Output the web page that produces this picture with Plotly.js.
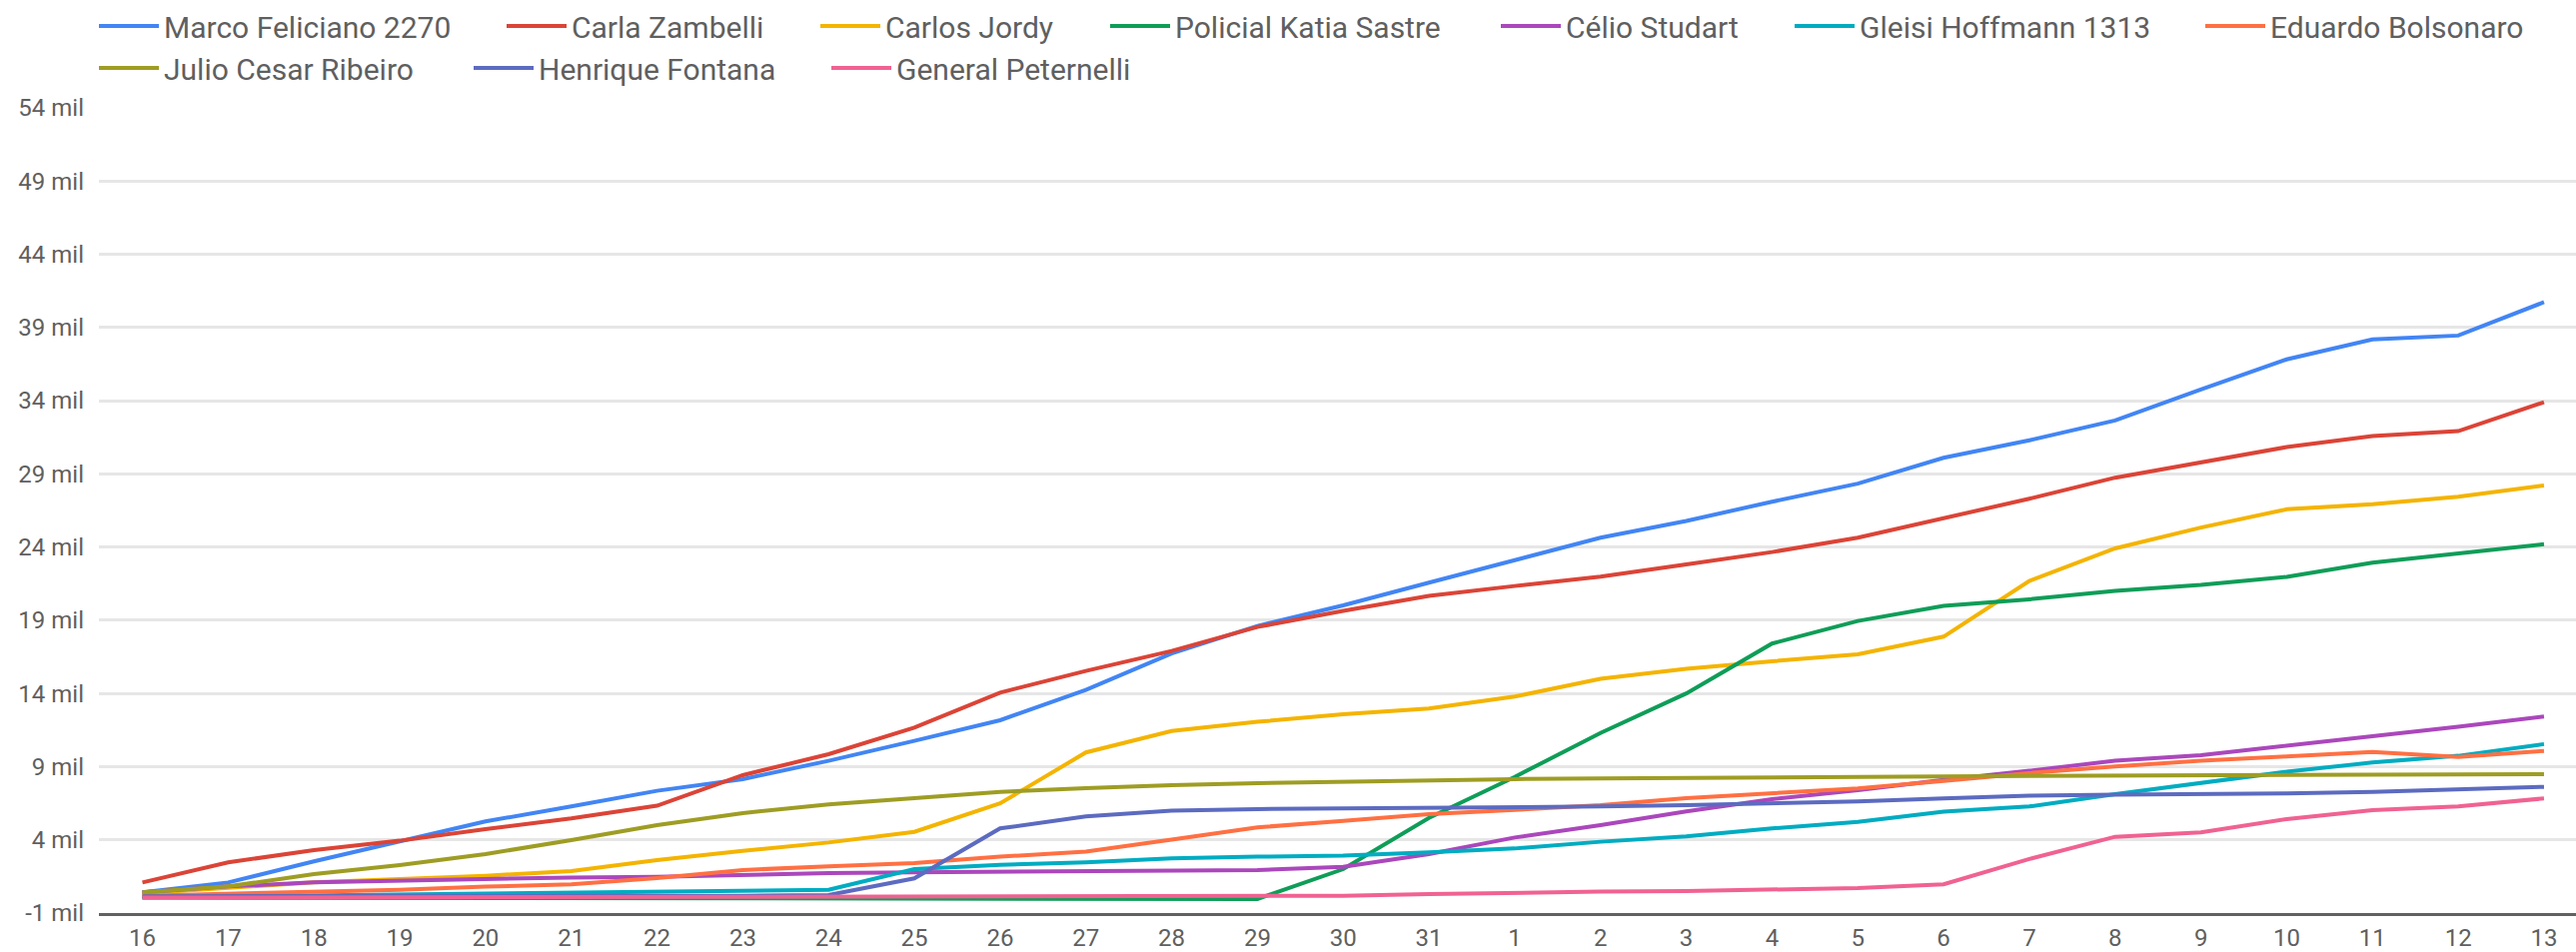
<!DOCTYPE html>
<html>
<head>
<meta charset="utf-8">
<script src="https://cdn.plot.ly/plotly-3.0.1.min.js"></script>
<style>
  html, body { margin: 0; padding: 0; background: #ffffff; }
  #chart { width: 2578px; height: 953px; }
</style>
</head>
<body>
<div id="chart"></div>
<script>
// Day labels (x axis)
const days = ["16","17","18","19","20","21","22","23","24","25","26","27","28","29","30","31",
              "1","2","3","4","5","6","7","8","9","10","11","12","13"];

// Values in thousands ("mil")
const marcoFeliciano = [0.41,1.09,2.53,3.87,5.26,6.28,7.35,8.15,9.40,10.76,12.17,14.24,16.73,18.61,20.02,21.57,
                        23.12,24.64,25.78,27.10,28.33,30.10,31.29,32.65,34.77,36.82,38.18,38.45,40.73];
const carlaZambelli = [1.09,2.46,3.30,3.94,4.73,5.46,6.33,8.42,9.85,11.67,14.06,15.54,16.90,18.54,19.64,20.66,
                       21.34,21.98,22.82,23.66,24.64,25.94,27.30,28.74,29.76,30.83,31.58,31.92,33.90];
const carlosJordy = [0.35,0.75,1.09,1.32,1.55,1.87,2.62,3.25,3.82,4.55,6.49,9.97,11.44,12.06,12.58,12.97,
                     13.79,15.00,15.68,16.20,16.68,17.88,21.68,23.91,25.33,26.58,26.92,27.44,28.21];
const katiaSastre = [0.05,0.04,0.03,0.02,0.01,0.00,-0.02,-0.03,-0.05,-0.06,-0.06,-0.05,-0.05,-0.04,2.00,5.50,
                     8.30,11.30,14.00,17.41,18.95,19.98,20.43,21.00,21.41,21.96,22.94,23.55,24.19];
const celioStudart = [0.41,0.82,1.09,1.20,1.37,1.43,1.48,1.62,1.73,1.78,1.82,1.84,1.89,1.94,2.15,3.03,
                      4.16,5.01,5.94,6.78,7.40,8.10,8.72,9.40,9.78,10.42,11.10,11.72,12.42];
const gleisiHoffmann = [0.07,0.14,0.23,0.30,0.37,0.41,0.46,0.52,0.59,2.00,2.30,2.46,2.73,2.85,2.93,3.14,
                        3.41,3.87,4.23,4.78,5.23,5.92,6.28,7.12,7.87,8.65,9.28,9.74,10.54];
const eduardoBolsonaro = [0.18,0.30,0.48,0.59,0.80,0.96,1.39,1.94,2.19,2.41,2.85,3.19,4.01,4.85,5.30,5.76,
                          6.05,6.37,6.85,7.19,7.51,8.03,8.56,9.01,9.40,9.69,10.01,9.67,10.08];
const julioCesarRibeiro = [0.41,0.82,1.66,2.28,3.03,3.98,5.01,5.83,6.42,6.87,7.28,7.53,7.74,7.87,7.98,8.10,
                           8.15,8.19,8.24,8.26,8.31,8.33,8.37,8.40,8.42,8.44,8.47,8.49,8.49];
const henriqueFontana = [0.15,0.15,0.16,0.16,0.17,0.17,0.18,0.18,0.23,1.37,4.78,5.60,5.99,6.10,6.14,6.17,
                         6.21,6.28,6.37,6.51,6.62,6.83,7.01,7.08,7.12,7.17,7.28,7.42,7.62];
const generalPeternelli = [0.05,0.06,0.06,0.07,0.07,0.08,0.09,0.10,0.10,0.11,0.12,0.13,0.14,0.15,0.18,0.30,
                           0.41,0.46,0.50,0.59,0.71,0.96,2.69,4.21,4.51,5.42,6.03,6.28,6.83];

// Y axis ticks
const yTickVals = [-1,4,9,14,19,24,29,34,39,44,49,54];
const yTickText = yTickVals.map(v => v + " mil");

const seriesNames = ["Marco Feliciano 2270","Carla Zambelli","Carlos Jordy","Policial Katia Sastre",
                     "Célio Studart","Gleisi Hoffmann 1313","Eduardo Bolsonaro","Julio Cesar Ribeiro",
                     "Henrique Fontana","General Peternelli"];
const seriesValues = [marcoFeliciano, carlaZambelli, carlosJordy, katiaSastre, celioStudart,
                      gleisiHoffmann, eduardoBolsonaro, julioCesarRibeiro, henriqueFontana, generalPeternelli];
const colors = ["#4285F4","#DB4437","#F4B400","#0F9D58","#AB47BC","#00ACC1","#FF7043","#9E9D24","#5C6BC0","#F06292"];

// legend placement (pixels in the 2578x953 page): [left of line, row centre]
const legendPos = [[99,26],[507,26],[821,26],[1111,26],[1502,26],[1796,26],[2207,26],
                   [99,68],[474,68],[832,68]];

const W = 2578, H = 953;
const textColor = "#5f5f5f";
const fontFamily = "Roboto, 'Open Sans', sans-serif";

const traces = seriesNames.map((name, i) => ({
  type: "scatter",
  mode: "lines",
  name: name,
  x: days,
  y: seriesValues[i],
  line: { color: colors[i], width: 4 },
  legend: i === 0 ? "legend" : "legend" + (i + 1),
  hovertemplate: name + "<br>%{x}: %{y:.2f} mil<extra></extra>"
}));

const layout = {
  width: W,
  height: H,
  paper_bgcolor: "#ffffff",
  plot_bgcolor: "#ffffff",
  margin: { l: 99, r: 0, t: 108, b: 39, pad: 0 },
  font: { family: fontFamily, color: textColor, size: 24 },
  xaxis: {
    type: "category",
    range: [-0.507, 28.373],
    showgrid: false,
    zeroline: false,
    showline: true,
    linecolor: "#616161",
    linewidth: 3,
    ticks: "",
    ticklabelstandoff: 1,
    tickfont: { family: fontFamily, size: 24, color: textColor },
    fixedrange: true
  },
  yaxis: {
    range: [-1, 54],
    tickvals: yTickVals,
    ticktext: yTickText,
    showgrid: true,
    gridcolor: "#e6e6e6",
    gridwidth: 3,
    zeroline: false,
    showline: false,
    ticks: "",
    ticklabelstandoff: 14,
    tickfont: { family: fontFamily, size: 24, color: textColor },
    fixedrange: true
  },
  showlegend: true,
  hovermode: "closest"
};

legendPos.forEach((p, i) => {
  const key = i === 0 ? "legend" : "legend" + (i + 1);
  layout[key] = {
    xref: "container", yref: "container",
    x: (p[0] - 5) / W,
    y: 1 - p[1] / H,
    xanchor: "left",
    yanchor: "middle",
    orientation: "h",
    bgcolor: "rgba(0,0,0,0)",
    borderwidth: 0,
    itemwidth: 60,
    font: { family: fontFamily, size: 30, color: textColor },
    itemclick: false,
    itemdoubleclick: false
  };
});

Plotly.newPlot("chart", traces, layout, { displayModeBar: false, responsive: false });
</script>
</body>
</html>
